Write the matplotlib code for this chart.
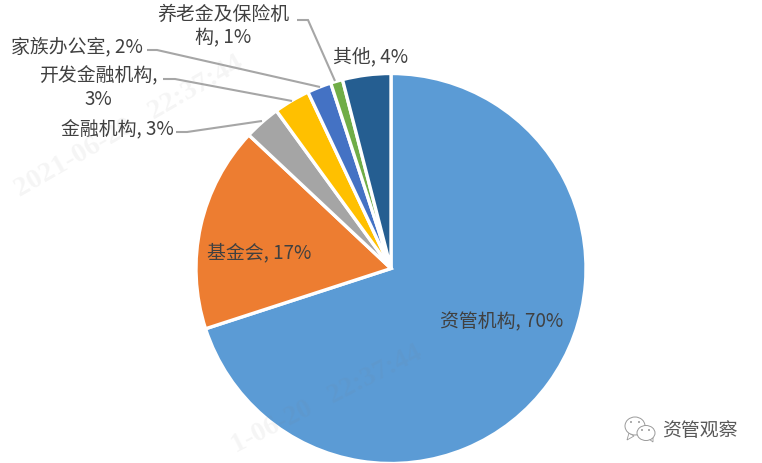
import matplotlib
matplotlib.use("Agg")
import matplotlib.pyplot as plt
from matplotlib.patches import Ellipse, Polygon

plt.rcParams['font.family'] = ['Noto Sans CJK SC', 'DejaVu Sans']

categories = ["资管机构", "基金会", "金融机构", "开发金融机构", "家族办公室", "养老金及保险机构", "其他"]
values = [70, 17, 3, 3, 2, 1, 4]
colors = ["#5B9BD5", "#ED7D31", "#A5A5A5", "#FFC000", "#4472C4", "#70AD47", "#255E91"]

W, H = 762, 464
TEXT = "#404040"
LEADER = "#A6A6A6"
FS = 13.6


def yy(y):
    # picture pixels count from the top
    return H - y


fig = plt.figure(figsize=(W / 100, H / 100), dpi=100)
ax = fig.add_axes([0, 0, 1, 1])

ax.pie(values, colors=colors, startangle=90, counterclock=False, radius=195,
       center=(391, yy(269.5)), frame=True,
       wedgeprops={"edgecolor": "white", "linewidth": 2.4})
ax.set_xlim(0, W)
ax.set_ylim(0, H)
ax.set_aspect("equal")
ax.axis("off")

# labels: text, x, y
labels = [
    ("资管机构, 70%", 502, 321.5),
    ("基金会, 17%", 259, 253),
    ("金融机构, 3%", 117, 129.5),
    ("开发金融机构,\n3%", 98, 87.5),
    ("家族办公室, 2%", 77, 47),
    ("养老金及保险机\n构, 1%", 223, 26),
    ("其他, 4%", 371, 57),
]
for txt, x, y in labels:
    ax.text(x, yy(y), txt, ha="center", va="center", color=TEXT, fontsize=FS,
            linespacing=1.2, zorder=5)

# leader lines
leaders = [
    ([176, 187, 262], [133, 133, 122]),
    ([163, 175, 292], [80, 80, 102]),
    ([147, 157, 320], [51, 51, 88]),
    ([297, 308, 335], [21, 21, 82]),
]
for xs, ys in leaders:
    ax.plot(xs, [yy(v) for v in ys], color=LEADER, lw=1.5, zorder=4,
            solid_capstyle="butt", solid_joinstyle="miter")

# faint timestamp watermarks, the lower one runs off the bottom edge in the source
ax.text(129, yy(127), "2021-06-20   22:37:44", rotation=30, rotation_mode="anchor",
        ha="center", va="center", fontsize=20.5, fontweight="bold",
        family="Liberation Serif", color="#808080", alpha=0.08, zorder=3)
ax.text(420, yy(352), "1-06-20   22:37:44", rotation=27, rotation_mode="anchor",
        ha="right", va="center", fontsize=20, fontweight="bold",
        family="Liberation Serif", color="#808080", alpha=0.08, zorder=3)

# wechat badge, bottom right
GREY = "#9A9A9A"
for cx, cy, w, h in [(635, 427, 20, 18), (646, 434, 18, 15)]:
    ax.add_patch(Ellipse((cx, yy(cy)), w, h, fc="white", ec=GREY, lw=0.7, zorder=6))
ax.add_patch(Polygon([(629, yy(434)), (627, yy(441)), (634, yy(437))], fc="white",
                     ec=GREY, lw=0.6, zorder=5))
ax.add_patch(Polygon([(649, yy(440)), (653, yy(443)), (653, yy(439))], fc="white",
                     ec=GREY, lw=0.6, zorder=5))
for cx, cy in [(631, 423), (639, 423), (642, 431), (649, 431)]:
    ax.add_patch(Ellipse((cx, yy(cy)), 2, 2, fc=GREY, ec="none", zorder=7))
ax.text(700, yy(431), "资管观察", ha="center", va="center", fontsize=FS,
        color="#595959", zorder=6)

fig.savefig("out.png", dpi=100)
